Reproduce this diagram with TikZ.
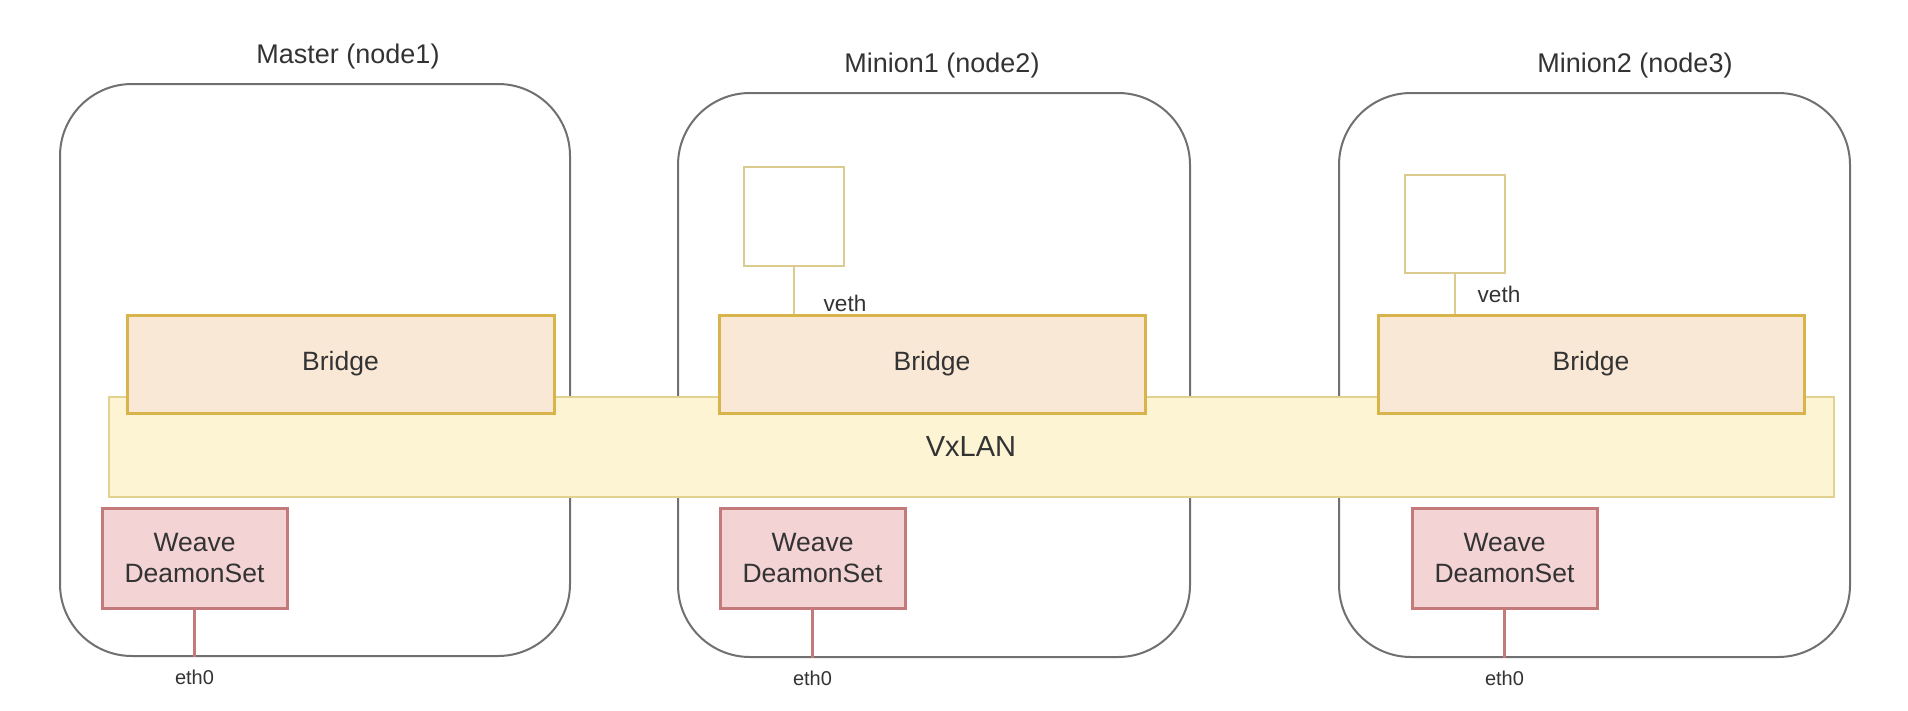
\documentclass[tikz,border=0pt]{standalone}
\usepackage{fontspec}
\setmainfont{Liberation Sans}
\definecolor{hostline}{HTML}{707070}
\definecolor{bridgefill}{HTML}{FAE8D6}
\definecolor{bridgeline}{HTML}{D9B44A}
\definecolor{vxfill}{HTML}{FDF4D4}
\definecolor{vxline}{HTML}{E3D18F}
\definecolor{weavefill}{HTML}{F3D3D4}
\definecolor{weaveline}{HTML}{C4797A}
\definecolor{podline}{HTML}{DCCB8E}
\definecolor{txt}{HTML}{333333}
\begin{document}
\begin{tikzpicture}[x=1pt,y=-1pt,
  host/.style={draw=hostline,line width=2pt,rounded corners=72pt,fill=white,inner sep=0pt},
  title/.style={text=txt,font=\fontsize{27}{32}\selectfont},
  bridge/.style={draw=bridgeline,fill=bridgefill,line width=3pt,minimum width=426pt,minimum height=98pt,inner sep=0pt,text=txt,font=\fontsize{26.5}{31}\selectfont},
  vxlan/.style={draw=vxline,fill=vxfill,line width=2pt,minimum width=1725pt,minimum height=100pt,inner sep=0pt,text=txt,font=\fontsize{29}{34}\selectfont},
  weave/.style={draw=weaveline,fill=weavefill,line width=3pt,minimum width=185pt,minimum height=100pt,inner sep=0pt,align=center,text=txt,font=\fontsize{26.5}{31}\selectfont},
  pod/.style={draw=podline,fill=white,line width=2pt,minimum width=100pt,minimum height=99pt,inner sep=0pt},
  iface/.style={text=txt,inner sep=0pt},
]
\useasboundingbox[fill=white] (0,0) rectangle (1908,710);

% Hosts
\node[host,minimum width=510pt,minimum height=572pt] (h1) at (315,370) {};
\node[host,minimum width=512pt,minimum height=564pt] (h2) at (934,375) {};
\node[host,minimum width=511pt,minimum height=564pt] (h3) at (1594.5,375) {};
\node[title] (t1) at (348,57) {Master (node1)};
\node[title] (t2) at (942,66) {Minion1 (node2)};
\node[title] (t3) at (1635,66) {Minion2 (node3)};

% Overlay network across all hosts
\node[vxlan] (vx) at (971,447) {VxLAN};

% Bridges
\node[bridge,minimum width=427pt] (b1) at (340.5,364) {Bridge};
\node[bridge] (b2) at (932,364) {Bridge};
\node[bridge] (b3) at (1591,364) {Bridge};

% Pods with veth
\node[pod] (p2) at (793.5,216) {};
\node[pod,minimum height=98pt] (p3) at (1454.5,224) {};
\draw[podline,line width=2pt] (p2.south) -- (p2.south |- b2.north);
\draw[podline,line width=2pt] (p3.south) -- (p3.south |- b3.north);
\node[iface,font=\fontsize{22.6}{26}\selectfont] (v2) at (845,303) {veth};
\node[iface,font=\fontsize{22.6}{26}\selectfont] (v3) at (1499,294) {veth};

% Weave daemons and eth0
\node[weave] (w1) at (194.5,558) {Weave\\DeamonSet};
\node[weave] (w2) at (812.5,558) {Weave\\DeamonSet};
\node[weave] (w3) at (1504.5,558) {Weave\\DeamonSet};
\foreach \w/\h in {w1/h1,w2/h2,w3/h3} {
  \draw[weaveline,line width=2.5pt] (\w.south) -- (\w.south |- \h.south);
  \node[iface,font=\fontsize{20}{24}\selectfont] (e\w) at ([yshift=-20pt]\w.south |- \h.south) {eth0};
}
\end{tikzpicture}
\end{document}
